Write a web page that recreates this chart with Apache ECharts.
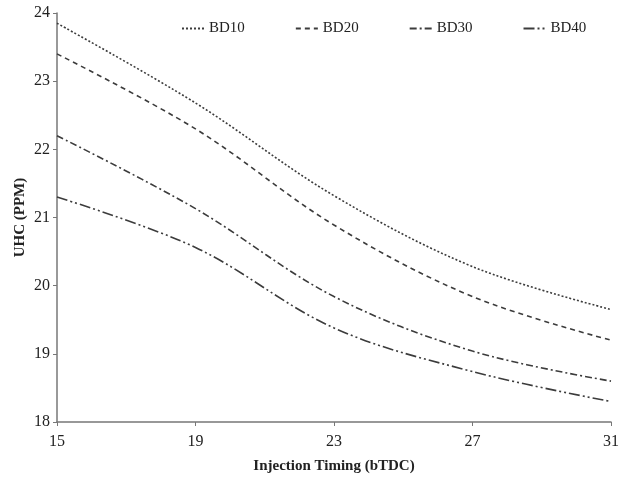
<!DOCTYPE html>
<html>
<head>
<meta charset="utf-8">
<script src="https://cdn.jsdelivr.net/npm/echarts@6/dist/echarts.min.js"></script>
<style>
  html, body { margin: 0; padding: 0; background: #fff; }
  #chart { width: 626px; height: 477px; }
</style>
</head>
<body>
<div id="chart"></div>
<script>
// Injection timing (degrees bTDC) and unburnt hydrocarbon emissions per blend
const timing = [15, 19, 23, 27, 31];
const bd10 = [23.85, 22.68, 21.32, 20.28, 19.65];
const bd20 = [23.40, 22.30, 20.89, 19.84, 19.20];
const bd30 = [22.20, 21.13, 19.84, 19.04, 18.60];
const bd40 = [21.30, 20.56, 19.38, 18.74, 18.30];
const seriesNames = ['BD10', 'BD20', 'BD30', 'BD40'];

const lineColor = '#3c3c3c';
const dashes = [[2, 2], [5, 4], [7, 3, 2, 3], [11, 3, 2, 3, 2, 3]];
const values = [bd10, bd20, bd30, bd40];
const font = '"Liberation Serif", "Times New Roman", serif';

const chart = echarts.init(document.getElementById('chart'));
chart.setOption({
  animation: false,
  backgroundColor: '#fff',
  grid: { left: 57, right: 15, top: 13, bottom: 55, outerBoundsMode: 'none', containLabel: false },
  legend: {
    top: 16,
    left: 176,
    itemGap: 50,
    itemWidth: 22,
    itemHeight: 12,
    itemStyle: { opacity: 0 },
    textStyle: { fontFamily: font, fontSize: 15, color: '#222' },
    data: seriesNames
  },
  xAxis: {
    type: 'value',
    min: 15, max: 31, interval: 4,
    name: 'Injection Timing (bTDC)',
    nameLocation: 'middle',
    nameGap: 37,
    nameMoveOverlap: false,
    nameTextStyle: { fontFamily: font, fontSize: 15, fontWeight: 'bold', color: '#222' },
    axisLine: { lineStyle: { color: '#777', width: 1.5 } },
    axisTick: { inside: false, length: 4, lineStyle: { color: '#777' } },
    axisLabel: { fontFamily: font, fontSize: 16, color: '#222', margin: 12 },
    splitLine: { show: false }
  },
  yAxis: {
    type: 'value',
    min: 18, max: 24, interval: 1,
    name: 'UHC (PPM)',
    nameLocation: 'middle',
    nameGap: 29,
    nameRotate: 90,
    nameMoveOverlap: false,
    nameTextStyle: { fontFamily: font, fontSize: 15, fontWeight: 'bold', color: '#222' },
    axisLine: { show: true, lineStyle: { color: '#777', width: 1.5 } },
    axisTick: { show: true, inside: false, length: 4, lineStyle: { color: '#777' } },
    axisLabel: { fontFamily: font, fontSize: 16, color: '#222', margin: 7 },
    splitLine: { show: false }
  },
  series: seriesNames.map((name, i) => ({
    name: name,
    type: 'line',
    smooth: 0.35,
    symbol: 'none',
    data: timing.map((t, j) => [t, values[i][j]]),
    lineStyle: { color: lineColor, width: 1.6, type: dashes[i] },
    itemStyle: { color: lineColor }
  }))
});
</script>
</body>
</html>
